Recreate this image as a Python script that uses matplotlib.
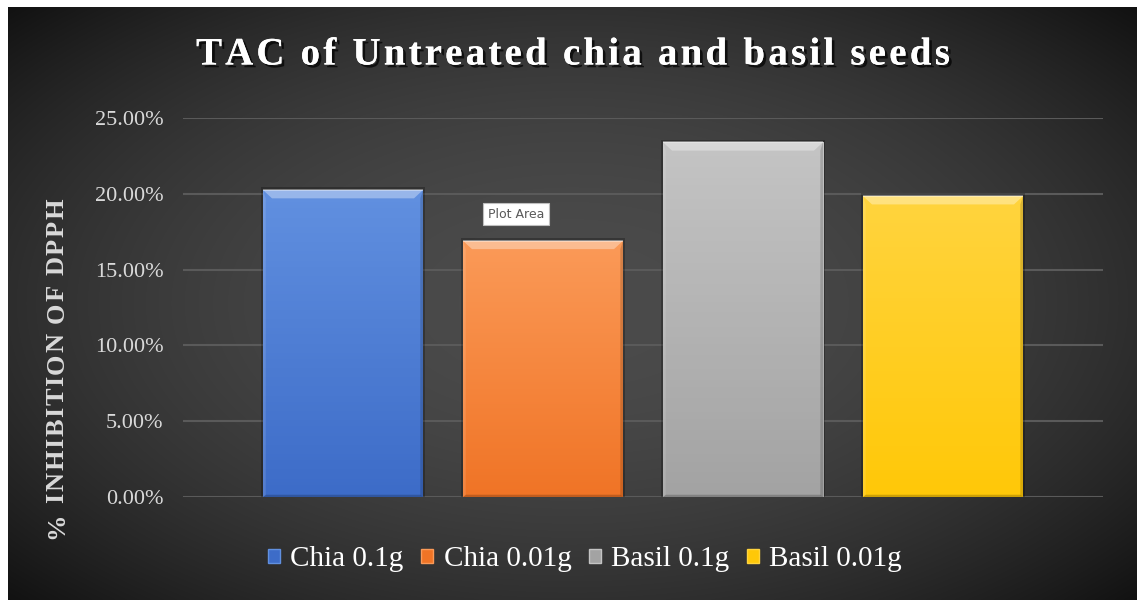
import matplotlib
matplotlib.use('Agg')
import matplotlib.pyplot as plt
import matplotlib.patheffects as pe
from matplotlib.patches import Polygon, Patch, Rectangle
from matplotlib.ticker import FuncFormatter
import numpy as np

# data
series = ['Chia 0.1g', 'Chia 0.01g', 'Basil 0.1g', 'Basil 0.01g']
inhibition = [0.2025, 0.169, 0.234, 0.1985]
y_ticks = [0.0, 0.05, 0.10, 0.15, 0.20, 0.25]

# (top colour, bottom colour) for each bar
bar_colors = [('#6190e0', '#3d6cc8'),
              ('#fb9a58', '#f07426'),
              ('#c4c4c4', '#a3a3a3'),
              ('#ffd43e', '#ffc808')]

serif = 'Liberation Serif'
W, H = 1137, 600

fig = plt.figure(figsize=(W / 100, H / 100), dpi=100, facecolor='white')
renderer = fig.canvas.get_renderer()


def text_width(s, **kw):
    t = fig.text(0, 0, s, **kw)
    w = t.get_window_extent(renderer).width
    t.remove()
    return w


def spaced_text(cx, cy, s, track, vertical=False, **kw):
    """Draw s centred on pixel (cx, cy from top) with extra spacing between letters."""
    space = text_width('a a', **kw) - text_width('aa', **kw)
    adv = [space if c == ' ' else text_width(c, **kw) for c in s]
    total = sum(adv) + track * (len(s) - 1)
    pos = -total / 2
    for c, a in zip(s, adv):
        if c != ' ':
            if vertical:
                fig.text(cx / W, 1 - (cy - pos) / H, c, rotation=90, rotation_mode='anchor',
                         ha='left', va='center', **kw)
            else:
                fig.text((cx + pos) / W, 1 - cy / H, c, ha='left', va='center', **kw)
        pos += a + track


# dark radial background, white strip left and top
bg = fig.add_axes([8 / W, 0, 1 - 8 / W, 1 - 7 / H])
bg.set_axis_off()
yy, xx = np.mgrid[-1:1:300j, -1:1:600j]
r2 = (xx / 1.05) ** 2 + (yy / 1.1) ** 2
shade = 0.295 - 0.13 * r2
bg.imshow(np.dstack([shade] * 3).clip(0, 1), aspect='auto',
          extent=(0, 1, 0, 1), interpolation='bilinear')
bg.set_xlim(0, 1)
bg.set_ylim(0, 1)

ax = fig.add_axes([183 / W, 1 - 497 / H, 920 / W, 379 / H])
ax.patch.set_alpha(0)
x = np.arange(len(series))
ax.set_xlim(-0.8, 3.8)
ax.set_ylim(0, 0.25)
ax.set_yticks(y_ticks)
ax.yaxis.set_major_formatter(FuncFormatter(lambda v, _: f'{v * 100:.2f}%'))
ax.set_xticks([])
for s in ax.spines.values():
    s.set_visible(False)
ax.tick_params(axis='y', length=0, pad=14, labelcolor='#d9d9d9', labelsize=16)
for lab in ax.get_yticklabels():
    lab.set_fontfamily(serif)
ax.grid(axis='y', color='#5a5a5a', linewidth=1.5)
ax.set_axisbelow(True)

bars = ax.bar(x, inhibition, width=0.8, color=[c[1] for c in bar_colors],
              edgecolor='none', zorder=2)

grad = np.linspace(0, 1, 100).reshape(-1, 1)
bx = 0.045   # bevel width in x units
by = 0.0055  # bevel height in y units
for b, (top, bottom) in zip(bars, bar_colors):
    x0, w, h = b.get_x(), b.get_width(), b.get_height()
    x1 = x0 + w
    # soft shadow around the bar
    ax.add_patch(Rectangle((x0 - 0.012, -0.0005), w + 0.024, h + 0.0022,
                           facecolor='black', alpha=0.25, edgecolor='none', zorder=1.5))
    cmap = matplotlib.colors.LinearSegmentedColormap.from_list('g', [bottom, top])
    im = ax.imshow(grad, cmap=cmap, aspect='auto', extent=(x0, x1, 0, h),
                   origin='lower', zorder=2.1)
    im.set_clip_path(b)
    # bevel faces
    ax.add_patch(Polygon([(x0, h), (x1, h), (x1 - bx, h - by), (x0 + bx, h - by)],
                         facecolor='white', alpha=0.35, edgecolor='none', zorder=2.2))
    ax.add_patch(Polygon([(x0, h), (x0 + bx * 0.3, h - by), (x0 + bx * 0.3, 0.001), (x0, 0)],
                         facecolor='white', alpha=0.12, edgecolor='none', zorder=2.2))
    ax.add_patch(Polygon([(x1, h), (x1 - bx * 0.3, h - by), (x1 - bx * 0.3, 0.001), (x1, 0)],
                         facecolor='black', alpha=0.15, edgecolor='none', zorder=2.2))
    ax.add_patch(Polygon([(x0, 0), (x1, 0), (x1 - bx * 0.3, 0.0015), (x0 + bx * 0.3, 0.0015)],
                         facecolor='black', alpha=0.2, edgecolor='none', zorder=2.2))
    ax.plot([x0, x1], [h, h], color='white', alpha=0.45, linewidth=1.2, zorder=2.3,
            solid_capstyle='butt')

# title
title_kw = dict(color='white', fontsize=28, fontweight='bold', fontfamily=serif,
                path_effects=[pe.withSimplePatchShadow(offset=(2, -2), shadow_rgbFace='black',
                                                       alpha=0.7),
                              pe.Normal()])
spaced_text(573, 55, 'TAC of Untreated chia and basil seeds', 3.2, **title_kw)

# y axis label
spaced_text(57, 369, '% INHIBITION OF DPPH', 1.6, vertical=True,
            color='#d9d9d9', fontsize=19, fontweight='bold', fontfamily=serif)

# legend
handles = [Patch(facecolor=c[1], edgecolor=c[0], linewidth=1) for c in bar_colors]
leg = fig.legend(handles, series, loc='center', bbox_to_anchor=(585 / W, 1 - 559 / H),
                 ncol=4, frameon=False, handlelength=0.42, handleheight=0.36,
                 handletextpad=0.35, columnspacing=0.6,
                 prop={'family': serif, 'size': 21})
for t in leg.get_texts():
    t.set_color('white')

# hover tooltip box
fig.text(516 / W, 1 - 214 / H, 'Plot Area', ha='center', va='center',
         color='#595959', fontsize=9, fontfamily='DejaVu Sans',
         bbox=dict(boxstyle='square,pad=0.35', facecolor='white', edgecolor='#bfbfbf',
                   linewidth=0.8))

fig.savefig('out.png', dpi=100, facecolor='white')
